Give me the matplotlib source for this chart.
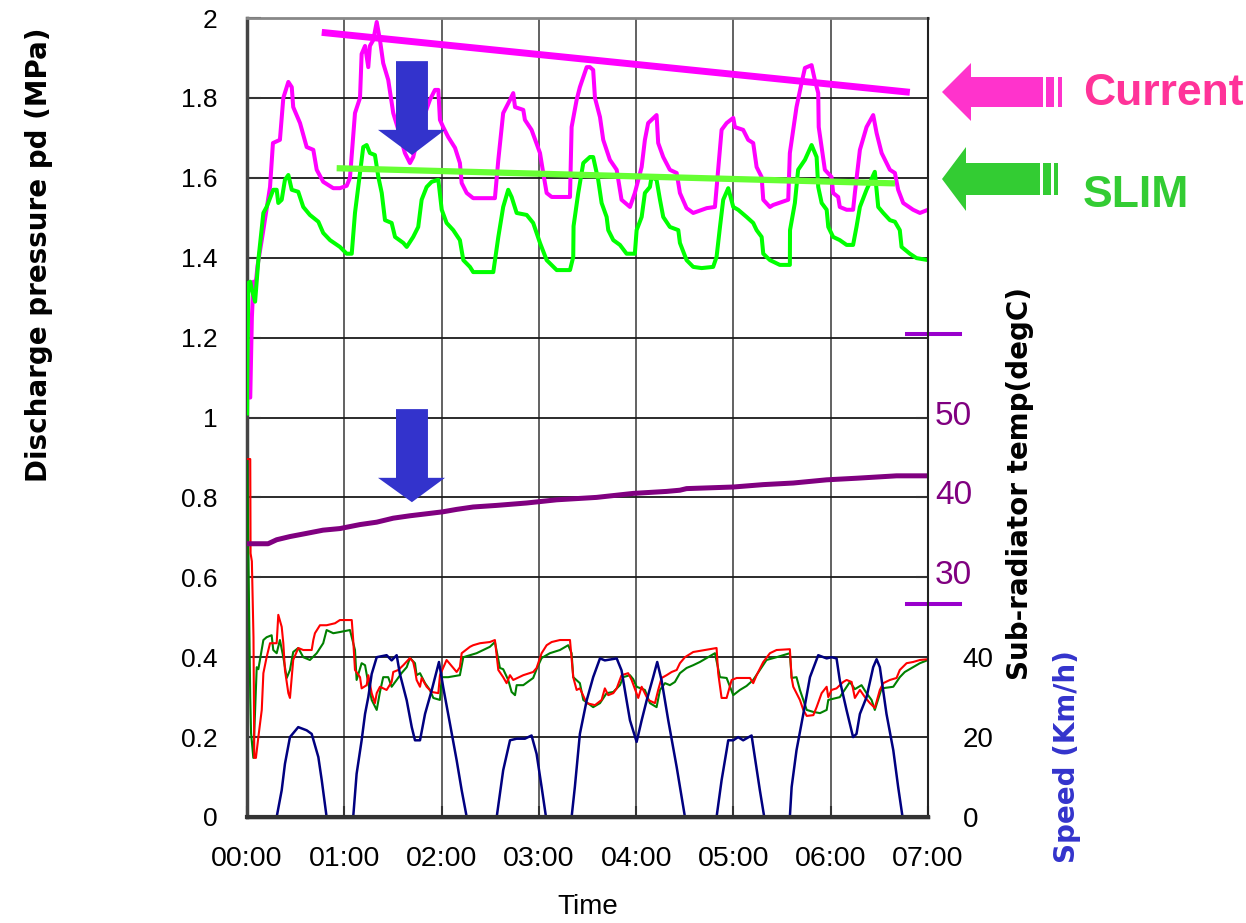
import matplotlib
matplotlib.use("Agg")
import matplotlib.pyplot as plt
from matplotlib.patches import Polygon
import matplotlib.transforms as mtransforms

plt.rcParams['font.family'] = ['Liberation Sans', 'DejaVu Sans']

# ---------------- data (time in minutes) ----------------
time_ticks = [0, 60, 120, 180, 240, 300, 360, 420]
time_labels = ["00:00", "01:00", "02:00", "03:00", "04:00", "05:00", "06:00", "07:00"]
pressure_ticks = [0, 0.2, 0.4, 0.6, 0.8, 1.0, 1.2, 1.4, 1.6, 1.8, 2.0]
pressure_labels = ["0", "0.2", "0.4", "0.6", "0.8", "1", "1.2", "1.4", "1.6", "1.8", "2"]
temp_ticks = [30, 40, 50]
speed_ticks = [0, 20, 40]
temp_range_marks = [26.6, 60.4]

current_pd = [(0,1.05),(2,1.05),(3,1.25),(4,1.34),(5,1.32),(6.5,1.38),(9.1,1.444),(14.2,1.577),(16.0,1.687),(20.3,1.695),
    (22.4,1.80),(25.5,1.84),(27.6,1.827),(28.5,1.777),(32.7,1.737),(36.8,1.677),(40.9,1.67),(43.0,1.62),(47.0,1.59),(53.2,1.574),
    (57.3,1.574),(61.5,1.58),(63.5,1.60),(66.6,1.762),(69.7,1.80),(70.7,1.91),(72.8,1.93),(74.8,1.877),(75.8,1.93),(77.9,1.945),
    (80.0,1.99),(82.0,1.945),(84.0,1.887),(87.1,1.845),(90.2,1.762),(94.3,1.707),(97.4,1.662),(100.5,1.637),(102.5,1.652),(107.7,1.737),
    (112.8,1.795),(115.9,1.82),(118.0,1.82),(119.0,1.745),(121.0,1.727),(124.1,1.702),(128.3,1.675),(131.3,1.637),(132.4,1.587),(135.5,1.562),
    (139.5,1.549),(152.9,1.549),(155.0,1.645),(158.0,1.762),(162.2,1.795),(164.2,1.812),(165.3,1.777),(170.4,1.77),(171.4,1.745),(175.5,1.72),
    (180.7,1.662),(182.7,1.612),(184.8,1.562),(187.9,1.552),(199.2,1.552),(200.2,1.727),(203.3,1.795),(205.3,1.827),(209.5,1.877),(211.5,1.877),
    (213.5,1.87),(214.6,1.80),(217.7,1.752),(219.7,1.695),(223.8,1.645),(228.0,1.62),(231.0,1.545),(236.2,1.527),(239.2,1.562),(243.4,1.627),
    (245.4,1.695),(247.4,1.737),(252.6,1.757),(253.6,1.687),(256.7,1.652),(260.8,1.62),(265.0,1.612),(267.0,1.562),(271.1,1.524),(275.2,1.512),
    (283.5,1.524),(288.6,1.527),(290.6,1.62),(292.7,1.72),(295.8,1.737),(299.9,1.75),(300.9,1.727),(306.0,1.72),(309.1,1.695),(312.2,1.687),
    (314.3,1.627),(317.4,1.602),(318.4,1.545),(322.5,1.527),(324.5,1.532),(333.8,1.545),(334.8,1.662),(338.9,1.777),(342.0,1.837),(344.1,1.875),
    (348.2,1.882),(350.2,1.845),(352.3,1.812),(352.6,1.727),(356.4,1.62),(360.5,1.602),(361.5,1.562),(364.6,1.552),(365.6,1.527),(369.8,1.52),
    (373.8,1.52),(374.9,1.562),(378.0,1.67),(382.1,1.727),(386.2,1.757),(388.3,1.712),(391.4,1.662),(396.5,1.62),(399.6,1.612),(401.6,1.57),
    (404.7,1.537),(410.8,1.52),(415.0,1.512),(420.0,1.52)]

slim_pd = [(0,1.01),(0.8,1.337),(2,1.34),(3,1.32),(5,1.29),(7,1.394),(10.1,1.512),(12.1,1.527),(16.2,1.57),(18.3,1.57),
    (19.3,1.537),(21.4,1.545),(23.4,1.595),(25.5,1.607),(27.6,1.57),(31.6,1.565),(34.7,1.527),(38.8,1.507),(44.0,1.49),(47.0,1.462),
    (51.2,1.444),(57.3,1.427),(61.5,1.41),(64.6,1.41),(66.6,1.512),(68.6,1.577),(71.7,1.677),(73.8,1.682),(75.8,1.662),(78.9,1.657),
    (81.0,1.602),(83.1,1.562),(85.1,1.494),(89.2,1.487),(91.3,1.452),(96.4,1.437),(98.5,1.427),(102.5,1.452),(105.6,1.477),(107.7,1.545),
    (110.8,1.577),(113.9,1.59),(118.0,1.595),(120.1,1.52),(123.1,1.487),(127.2,1.469),(131.3,1.444),(133.4,1.394),(137.5,1.377),(139.5,1.364),
    (151.9,1.364),(155.0,1.452),(158.0,1.527),(161.1,1.57),(163.2,1.552),(166.3,1.512),(172.5,1.507),(176.5,1.487),(180.7,1.437),(184.8,1.394),
    (191.0,1.369),(199.2,1.369),(201.2,1.402),(201.4,1.479),(204.3,1.562),(207.4,1.637),(211.5,1.652),(213.5,1.652),(216.6,1.595),(218.7,1.537),
    (221.8,1.502),(222.8,1.469),(225.9,1.444),(230.0,1.432),(234.1,1.41),(239.2,1.41),(240.3,1.469),(243.4,1.502),(245.4,1.562),(248.5,1.577),
    (249.5,1.602),(252.6,1.595),(254.7,1.545),(256.7,1.502),(260.8,1.477),(266.0,1.469),(267.0,1.437),(271.1,1.394),(275.2,1.377),(280.4,1.374),
    (287.5,1.377),(289.6,1.402),(291.7,1.477),(293.7,1.545),(296.8,1.574),(299.9,1.527),(302.9,1.52),(308.1,1.502),(312.2,1.487),(314.3,1.469),
    (317.4,1.452),(318.4,1.41),(322.5,1.394),(328.6,1.382),(334.8,1.382),(334.9,1.469),(337.9,1.537),(339.9,1.62),(344.1,1.645),(348.2,1.682),
    (351.3,1.652),(352.3,1.577),(354.4,1.537),(357.5,1.52),(358.5,1.477),(361.5,1.452),(365.6,1.444),(369.8,1.432),(373.8,1.432),(375.9,1.477),
    (378.0,1.527),(382.1,1.57),(387.2,1.615),(389.3,1.527),(392.4,1.512),(396.5,1.494),(399.6,1.49),(402.6,1.469),(403.7,1.427),(408.8,1.41),
    (412.9,1.399),(420,1.394)]

current_trend = [(46.1, 1.964), (408.8, 1.814)]
slim_trend = [(55.3, 1.624), (399.6, 1.586)]

red_low = [(0,0.896),(2,0.896),(2.2,0.66),(3,0.64),(4,0.45),(4.5,0.148),(5.5,0.148),(7.0,0.20),(9.1,0.268),(10.1,0.36),
    (12.1,0.40),(14.2,0.435),(18.3,0.435),(19.3,0.506),(21.4,0.476),(22.4,0.435),(23.4,0.368),(25.5,0.31),(26.5,0.298),(27.6,0.35),
    (28.5,0.393),(31.6,0.423),(34.7,0.418),(39.9,0.418),(40.9,0.443),(41.9,0.46),(45.0,0.48),(49.1,0.48),(54.3,0.485),(57.3,0.493),
    (64.6,0.493),(65.5,0.443),(66.6,0.368),(69.7,0.35),(70.7,0.322),(73.8,0.33),(74.8,0.355),(76.9,0.31),(78.9,0.285),(80.0,0.31),
    (82.0,0.326),(86.1,0.318),(89.2,0.338),(90.2,0.363),(93.3,0.368),(96.4,0.38),(100.5,0.398),(102.5,0.388),(103.6,0.368),(104.6,0.343),
    (106.7,0.326),(107.7,0.348),(110.8,0.326),(113.9,0.313),(118.0,0.31),(119.0,0.355),(123.1,0.393),(129.3,0.363),(131.3,0.375),(132.4,0.41),
    (137.5,0.426),(139.5,0.43),(143.7,0.435),(149.8,0.438),(152.9,0.443),(155.0,0.368),(158.0,0.35),(160.1,0.335),(162.2,0.355),(164.2,0.343),
    (170.4,0.355),(176.5,0.363),(178.6,0.373),(181.7,0.41),(184.8,0.43),(187.9,0.438),(193.0,0.443),(199.2,0.443),(201.2,0.35),(203.3,0.318),
    (205.3,0.322),(209.5,0.285),(214.6,0.28),(218.7,0.293),(220.7,0.322),(222.8,0.305),(225.9,0.31),(228.0,0.322),(231.0,0.355),(235.1,0.36),
    (237.2,0.343),(241.3,0.298),(243.4,0.326),(247.4,0.293),(251.6,0.285),(253.6,0.318),(255.7,0.348),(258.8,0.355),(261.9,0.363),(265.0,0.368),
    (267.0,0.385),(270.1,0.40),(275.2,0.413),(282.4,0.418),(289.6,0.423),(290.6,0.36),(292.7,0.298),(295.8,0.298),(298.9,0.343),(302.0,0.348),
    (310.2,0.348),(312.2,0.335),(314.3,0.355),(318.4,0.388),(322.5,0.41),(326.6,0.418),(334.8,0.42),(335.9,0.348),(336.9,0.326),(341.0,0.293),
    (343.1,0.268),(345.2,0.253),(349.3,0.255),(351.3,0.275),(354.4,0.31),(357.5,0.326),(358.5,0.30),(360.5,0.318),(363.6,0.322),(367.7,0.338),
    (369.8,0.343),(372.9,0.338),(374.9,0.298),(378.0,0.318),(381.1,0.30),(384.2,0.285),(387.2,0.273),(390.3,0.318),(392.4,0.335),(396.5,0.343),
    (400.6,0.348),(402.6,0.368),(406.8,0.385),(410.8,0.388),(415.0,0.393),(420,0.395)]

green_low = [(0,0.896),(0.7,0.70),(1.5,0.45),(2,0.3),(2.5,0.21),(3.9,0.148),(6.0,0.375),(7.0,0.37),(10.1,0.443),(12.1,0.45),
    (15.2,0.455),(16.2,0.418),(18.3,0.41),(20.3,0.443),(22.4,0.40),(24.5,0.348),(26.5,0.368),(28.5,0.413),(31.6,0.423),(34.7,0.40),
    (38.8,0.393),(43.0,0.41),(47.0,0.435),(49.1,0.468),(53.2,0.46),(57.3,0.463),(63.5,0.468),(66.6,0.418),(67.6,0.343),(70.7,0.385),
    (72.8,0.38),(74.8,0.335),(76.9,0.293),(80.0,0.268),(82.0,0.313),(84.0,0.35),(87.1,0.35),(89.2,0.326),(92.3,0.343),(95.3,0.36),
    (98.5,0.375),(100.5,0.398),(103.6,0.385),(104.6,0.355),(106.7,0.36),(109.8,0.335),(112.8,0.318),(114.9,0.298),(119.0,0.293),(120.1,0.35),
    (124.1,0.35),(131.3,0.355),(133.4,0.40),(137.5,0.405),(141.6,0.41),(145.7,0.418),(149.8,0.426),(152.9,0.438),(156.0,0.373),(158.0,0.37),
    (161.1,0.343),(163.2,0.313),(165.3,0.305),(166.3,0.33),(170.4,0.33),(176.5,0.348),(178.6,0.37),(181.7,0.398),(186.8,0.41),(193.0,0.418),
    (198.1,0.43),(200.2,0.41),(201.2,0.35),(205.3,0.335),(207.4,0.293),(213.5,0.275),(217.7,0.285),(221.8,0.31),(225.9,0.313),(230.0,0.33),
    (232.0,0.35),(236.2,0.355),(238.2,0.345),(240.3,0.326),(245.4,0.318),(248.5,0.285),(252.6,0.275),(254.7,0.318),(257.8,0.335),(260.8,0.33),
    (263.9,0.338),(267.0,0.36),(271.1,0.373),(275.2,0.38),(279.3,0.388),(283.5,0.398),(288.6,0.41),(291.7,0.35),(295.8,0.348),(299.9,0.305),
    (304.0,0.318),(308.1,0.328),(312.2,0.343),(316.3,0.368),(320.4,0.393),(326.6,0.40),(334.8,0.41),(335.9,0.348),(338.9,0.35),(341.0,0.318),
    (345.2,0.268),(349.3,0.263),(353.4,0.26),(357.5,0.268),(358.5,0.293),(365.6,0.30),(369.8,0.326),(371.8,0.338),(374.9,0.32),(379.0,0.33),
    (382.1,0.31),(385.2,0.293),(387.2,0.268),(391.4,0.322),(398.6,0.326),(402.6,0.35),(405.7,0.363),(410.8,0.375),(415.0,0.385),(420,0.393)]

speed_kmh = [(0,0),(18.3,0),(21.4,6.7),(23.4,13.3),(26.5,20),(31.6,22.5),(36.8,21.7),(39.9,20.8),(44.0,15),(46.1,9.2),
    (49.1,0),(65.5,0),(67.6,10.8),(70.7,19.2),(72.8,25.8),(74.8,30),(76.9,35.8),(80.0,40),(86.1,40.5),(89.2,39.2),
    (92.3,40.5),(94.3,35.8),(98.5,29.2),(101.6,22.5),(103.6,19.2),(106.7,19.2),(109.8,25.8),(113.9,31.7),(118.4,38.8),(121.0,32.5),
    (125.2,23.3),(129.3,14.2),(132.4,6.7),(135.5,0),(154.0,0),(158.0,11.7),(162.2,19.2),(166.3,19.6),(171.4,19.6),(175.5,20.4),
    (178.6,15.8),(181.7,7.5),(184.4,0),(200.2,0),(202.2,7.5),(205.3,20.8),(209.5,29.2),(213.5,35),(217.7,39.7),(220.7,39.2),
    (228.0,39.7),(231.0,36.7),(234.1,29.2),(236.2,24.2),(240.3,18.8),(243.4,24.2),(246.5,29.2),(250.5,35),(253.0,38.8),(255.7,34.2),
    (259.8,24.2),(265.0,12.5),(270.1,0),(289.6,0),(292.7,9.2),(295.8,16.7),(296.8,19.2),(299.9,19.2),(302.9,20),(306.0,19.2),
    (311.2,20.4),(313.2,15),(316.3,6.7),(319.0,0),(334.8,0),(335.9,7.5),(338.9,16.7),(343.1,25.8),(347.2,35),(352.3,40.5),
    (357.5,39.7),(360.5,40),(363.6,39.7),(365.6,34.2),(369.8,26.7),(373.8,20),(375.9,20.8),(378.0,25.8),(382.1,30),(386.2,37.5),
    (388.3,39.5),(390.3,37.5),(394.4,25.8),(398.6,16.7),(401.6,7.5),(404.3,0),(420,0)]

subrad_temp = [(0,34.2),(13,34.2),(18.3,34.7),(26.5,35.1),(36.8,35.5),(46.9,35.9),(57.3,36.1),(69.7,36.6),(80,36.9),(90.2,37.4),
    (100.5,37.7),(112.8,38.0),(120.9,38.2),(129.3,38.5),(139.5,38.8),(154.0,39.0),(172.5,39.3),(191.0,39.7),(215.6,40.0),(238.2,40.5),
    (258.8,40.75),(267.0,40.9),(271.1,41.1),(299.9,41.3),(318.4,41.6),(336.9,41.8),(357.5,42.2),(376.0,42.4),(400.6,42.7),(420,42.7)]


def xy(points):
    return [p[0] for p in points], [p[1] for p in points]


# ---------------- figure ----------------
W, H = 1246, 923
fig = plt.figure(figsize=(W / 100, H / 100), dpi=100)
L, R, T, B = 247, 928, 18, 817
ax = fig.add_axes([L / W, 1 - B / H, (R - L) / W, (B - T) / H])
ax.set_xlim(0, 420)
ax.set_ylim(0, 2)
ax.set_xticks(time_ticks)
ax.set_xticklabels(time_labels)
ax.set_yticks(pressure_ticks)
ax.set_yticklabels(pressure_labels)
ax.tick_params(axis='y', direction='in', length=10, width=1.5, color='#333333', labelsize=19, pad=21)
ax.tick_params(axis='x', direction='in', length=8, width=1.5, color='#333333', labelsize=20.5, pad=21)
ax.grid(axis='y', color='#1a1a1a', lw=1.3)
ax.grid(axis='x', color='#555555', lw=1.3)
ax.set_axisbelow(True)
ax.spines['top'].set_color('#888888'); ax.spines['top'].set_linewidth(2)
ax.spines['left'].set_color('#444444'); ax.spines['left'].set_linewidth(2.5)
ax.spines['bottom'].set_color('#333333'); ax.spines['bottom'].set_linewidth(2.5)
ax.spines['right'].set_visible(False)

# upper curves
ax.plot(*xy(current_pd), color='#FF00FF', lw=2.9, zorder=3, solid_joinstyle='round')
ax.plot(*xy(slim_pd), color='#00FF00', lw=2.9, zorder=3, solid_joinstyle='round')
ax.plot(*xy(current_trend), color='#FF00FF', lw=5, zorder=4, solid_capstyle='butt')
ax.plot(*xy(slim_trend), color='#66FF33', lw=4.5, zorder=4, solid_capstyle='butt')
# lower curves
ax.plot(*xy(green_low), color='#008000', lw=1.5, zorder=3)
ax.plot(*xy(red_low), color='#FF0000', lw=1.5, zorder=3)

# blue arrows (annotation)
arrow_col = '#3333CC'
for top, neck, tip in [(1.892, 1.720, 1.657), (1.021, 0.849, 0.788)]:
    ax.add_patch(Polygon([(91.9, top), (111.6, top), (111.6, neck), (122.1, neck), (101.7, tip),
                          (80.8, neck), (91.9, neck)], closed=True, facecolor=arrow_col,
                         edgecolor='none', zorder=6))

# temperature axis
ax_t = ax.twinx()
ax_t.set_ylim(0, 100)
ax_t.set_yticks(temp_ticks)
ax_t.tick_params(axis='y', direction='in', length=9, width=1.5, color='#333333',
                 labelsize=24, labelcolor='#800080', pad=5)
for s in ax_t.spines.values():
    s.set_visible(False)
off = mtransforms.ScaledTranslation(0, 5 / 100, fig.dpi_scale_trans)
for lbl in ax_t.get_yticklabels():
    lbl.set_transform(lbl.get_transform() + off)
ax_t.plot(*xy(subrad_temp), color='#800080', lw=3.6, zorder=3)
blend = mtransforms.blended_transform_factory(ax_t.transAxes, ax_t.transData)
for v in temp_range_marks:
    ax_t.plot([0.969, 1.047], [v, v], transform=blend, color='#9900CC', lw=2.9, clip_on=False)

# speed axis
ax_s = ax.twinx()
ax_s.set_ylim(0, 200)
ax_s.set_yticks(speed_ticks)
ax_s.tick_params(axis='y', direction='in', length=0, labelsize=20, labelcolor='black', pad=25)
for k in ['top', 'left']:
    ax_s.spines[k].set_visible(False)
ax_s.spines['right'].set_color('#222222'); ax_s.spines['right'].set_linewidth(1.5)
ax_s.spines['bottom'].set_color('#333333'); ax_s.spines['bottom'].set_linewidth(3)
ax_s.spines['bottom'].set_zorder(5)
ax_s.tick_params(axis='x', bottom=False, labelbottom=False)
ax_s.plot(*xy(speed_kmh), color='#000080', lw=1.8, zorder=3)

# overlay in pixel coordinates for outer labels and legend arrows
ov = fig.add_axes([0, 0, 1, 1])
ov.set_xlim(0, W)
ov.set_ylim(H, 0)
ov.axis('off')
ov.set_zorder(10)
bold = dict(family='DejaVu Sans', fontweight='bold', fontsize=20)
ov.text(39, 255, 'Discharge pressure pd (MPa)', rotation=90, ha='center', va='center', color='black', **bold)
ov.text(1020, 483, 'Sub-radiator temp(degC)', rotation=90, ha='center', va='center', color='black', **bold)
ov.text(1067, 757, 'Speed (Km/h)', rotation=90, ha='center', va='center', color='#3333CC', **bold)
ov.text(588, 907, 'Time', ha='center', va='center', fontsize=20, color='black')


def side_arrow(tip_x, tip_y, head_x, head_half, shaft_half, shaft_end, bars, col):
    ov.add_patch(Polygon([(tip_x, tip_y), (head_x, tip_y - head_half), (head_x, tip_y - shaft_half),
                          (shaft_end, tip_y - shaft_half), (shaft_end, tip_y + shaft_half),
                          (head_x, tip_y + shaft_half), (head_x, tip_y + head_half)],
                         closed=True, facecolor=col, edgecolor='none'))
    for x0, x1 in bars:
        ov.add_patch(Polygon([(x0, tip_y - shaft_half), (x1, tip_y - shaft_half),
                              (x1, tip_y + shaft_half), (x0, tip_y + shaft_half)],
                             closed=True, facecolor=col, edgecolor='none'))


side_arrow(942, 92, 971, 29, 15, 1043, [(1046, 1054), (1058, 1062)], '#FF33CC')
side_arrow(942, 179, 966, 32, 16, 1040, [(1043, 1051), (1054, 1058)], '#33CC33')
ov.text(1083, 105, 'Current', ha='left', va='baseline', fontsize=32, fontweight='bold',
        family='Liberation Sans', color='#FF3399')
ov.text(1083, 207, 'SLIM', ha='left', va='baseline', fontsize=32, fontweight='bold',
        family='Liberation Sans', color='#33CC33')

fig.savefig('out.png', dpi=100)
